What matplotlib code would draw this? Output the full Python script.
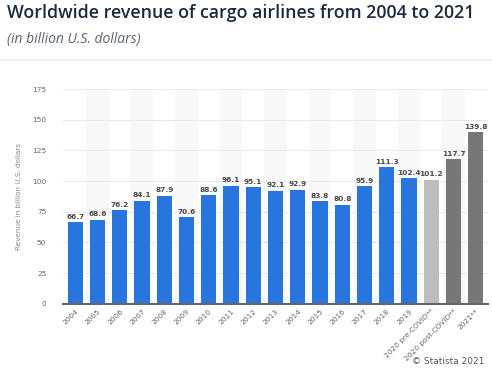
import matplotlib.pyplot as plt

# data
years = ['2004', '2005', '2006', '2007', '2008', '2009', '2010', '2011', '2012',
         '2013', '2014', '2015', '2016', '2017', '2018', '2019',
         '2020 pre-COVID**', '2020 post-COVID**', '2021**']
revenue = [66.7, 68.6, 76.2, 84.1, 87.9, 70.6, 88.6, 96.1, 95.1,
           92.1, 92.9, 83.8, 80.8, 95.9, 111.3, 102.4,
           101.2, 117.7, 139.8]
bar_colors = ['#2876dd'] * 16 + ['#bdbdbd', '#777777', '#777777']
yticks = [0, 25, 50, 75, 100, 125, 150, 175]

fig = plt.figure(figsize=(4.92, 3.71), dpi=100)
ax = fig.add_axes([0.128, 0.181, 0.864, 0.579])

x = range(len(years))
# alternating column bands
for i in x:
    if i % 2 == 1:
        ax.axvspan(i - 0.5, i + 0.5, color='#f8f8f8', zorder=0, lw=0)

bars = ax.bar(x, revenue, width=0.68, color=bar_colors, zorder=3)
for b, v in zip(bars, revenue):
    ax.text(b.get_x() + b.get_width() / 2, v + 2, f'{v:.1f}', ha='center', va='bottom',
            fontsize=5.3, fontweight='bold', color='#4a4a4a', zorder=4)

ax.set_xlim(-0.55, len(years) - 0.45)
ax.set_ylim(0, 175)
ax.set_yticks(yticks)
ax.grid(axis='y', color='#e9e9e9', lw=0.7, zorder=1)
ax.set_axisbelow(True)
for s in ['top', 'right', 'left']:
    ax.spines[s].set_visible(False)
ax.spines['bottom'].set_color('#666666')
ax.spines['bottom'].set_linewidth(1.5)
ax.spines['bottom'].set_zorder(5)
ax.tick_params(axis='both', length=0, labelsize=5.3, labelcolor='#666666')
ax.tick_params(axis='y', pad=12)
ax.tick_params(axis='x', pad=3)
ax.set_xticks(list(x))
ax.set_xticklabels(years, rotation=45, ha='right', rotation_mode='anchor')
ax.set_ylabel('Revenue in billion U.S. dollars', fontsize=5.2, color='#888888', labelpad=7)

fig.text(0.014, 0.965, 'Worldwide revenue of cargo airlines from 2004 to 2021',
         fontsize=12.8, fontweight='semibold', color='#1c2a3e', va='center',
         family='Open Sans')
fig.text(0.014, 0.893, '(in billion U.S. dollars)', fontsize=10, style='italic',
         color='#5a6270', va='center', family='Open Sans')
fig.add_artist(plt.Line2D([0, 1], [0.838, 0.838], color='#eeeeee', lw=1.5,
                          transform=fig.transFigure))
fig.text(0.985, 0.025, '© Statista 2021', fontsize=6.5, color='#555555', ha='right',
         va='center')

fig.savefig('out.png', dpi=100)
